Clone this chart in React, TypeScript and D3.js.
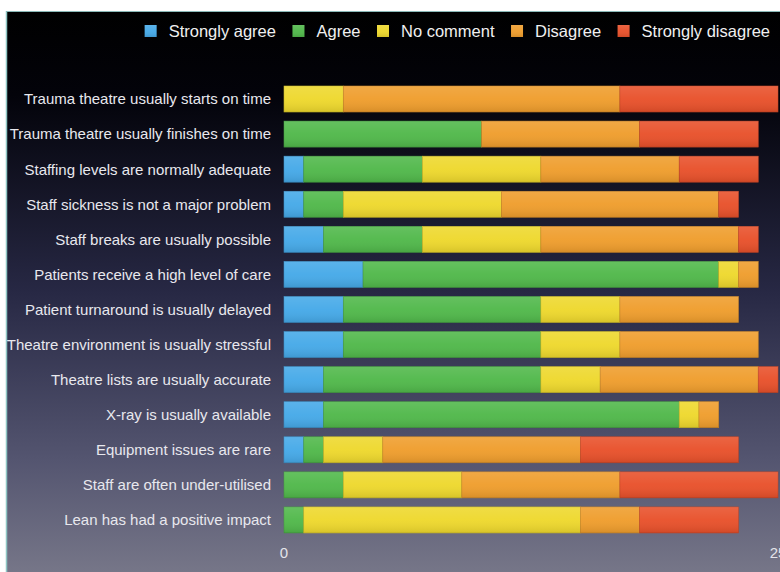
import React, { useEffect, useRef } from "react";
import * as d3 from "d3";

const categories = [
  "Trauma theatre usually starts on time",
  "Trauma theatre usually finishes on time",
  "Staffing levels are normally adequate",
  "Staff sickness is not a major problem",
  "Staff breaks are usually possible",
  "Patients receive a high level of care",
  "Patient turnaround is usually delayed",
  "Theatre environment is usually stressful",
  "Theatre lists are usually accurate",
  "X-ray is usually available",
  "Equipment issues are rare",
  "Staff are often under-utilised ",
  "Lean has had a positive impact",
];

const seriesNames = ["Strongly agree", "Agree", "No comment", "Disagree", "Strongly disagree"];
const seriesColors = ["#45a9e8", "#50b84a", "#eed82c", "#ef9d2c", "#e8502a"];

const stronglyAgree = [0, 0, 1, 1, 2, 4, 3, 3, 2, 2, 1, 0, 0];
const agree = [0, 10, 6, 2, 5, 18, 10, 10, 11, 18, 1, 3, 1];
const noComment = [3, 0, 6, 8, 6, 1, 4, 4, 3, 1, 3, 6, 14];
const disagree = [14, 8, 7, 11, 10, 1, 6, 7, 8, 1, 10, 8, 3];
const stronglyDisagree = [8, 6, 4, 1, 1, 0, 0, 0, 1, 0, 8, 8, 5];

const xTicks = [0, 25];

const W = 780;
const H = 572;

export default function App() {
  const ref = useRef<SVGSVGElement | null>(null);

  useEffect(() => {
    const svg = d3.select(ref.current);
    svg.selectAll("*").remove();

    const defs = svg.append("defs");
    const bg = defs.append("linearGradient").attr("id", "bg").attr("x1", 0).attr("y1", 0).attr("x2", 0).attr("y2", 1);
    bg.append("stop").attr("offset", "0%").attr("stop-color", "#000000");
    bg.append("stop").attr("offset", "15%").attr("stop-color", "#03030a");
    bg.append("stop").attr("offset", "50%").attr("stop-color", "#272844");
    bg.append("stop").attr("offset", "80%").attr("stop-color", "#545570");
    bg.append("stop").attr("offset", "100%").attr("stop-color", "#767688");

    const shine = defs.append("linearGradient").attr("id", "shine").attr("x1", 0).attr("y1", 0).attr("x2", 0).attr("y2", 1);
    shine.append("stop").attr("offset", "0%").attr("stop-color", "#ffffff").attr("stop-opacity", 0.12);
    shine.append("stop").attr("offset", "50%").attr("stop-color", "#ffffff").attr("stop-opacity", 0.04);
    shine.append("stop").attr("offset", "100%").attr("stop-color", "#000000").attr("stop-opacity", 0.1);

    svg.append("rect").attr("width", W).attr("height", H).attr("fill", "#ffffff");
    svg.append("rect").attr("x", 6).attr("y", 11).attr("width", W - 6).attr("height", H - 11).attr("fill", "url(#bg)");
    svg.append("line").attr("x1", 6.5).attr("x2", 6.5).attr("y1", 11).attr("y2", H).attr("stroke", "#8ec6c4").attr("stroke-width", 1.5);
    svg.append("line").attr("x1", 6).attr("x2", W).attr("y1", 11.5).attr("y2", 11.5).attr("stroke", "#8ab8b8").attr("stroke-width", 1);

    const x = d3.scaleLinear().domain([0, 25]).range([284, 778]);
    const y = d3.scaleBand<string>().domain(categories).range([81.46, 537.5]).paddingInner(0.259).paddingOuter(0.1295);

    const rows = categories.map((c, i) => ({
      cat: c,
      "Strongly agree": stronglyAgree[i],
      Agree: agree[i],
      "No comment": noComment[i],
      Disagree: disagree[i],
      "Strongly disagree": stronglyDisagree[i],
    }));
    const stack = d3.stack<any>().keys(seriesNames)(rows);

    const g = svg.append("g");
    stack.forEach((s, si) => {
      s.forEach((d: any) => {
        const w = x(d[1]) - x(d[0]);
        if (w <= 0) return;
        const cat = d.data.cat;
        g.append("rect")
          .attr("x", x(d[0]))
          .attr("y", y(cat)!)
          .attr("width", w)
          .attr("height", y.bandwidth())
          .attr("fill", seriesColors[si])
          .attr("stroke", d3.color(seriesColors[si])!.darker(0.5).toString())
          .attr("stroke-width", 0.6);
        g.append("rect")
          .attr("x", x(d[0]))
          .attr("y", y(cat)!)
          .attr("width", w)
          .attr("height", y.bandwidth())
          .attr("fill", "url(#shine)");
      });
    });

    svg
      .append("g")
      .selectAll("text")
      .data(categories)
      .join("text")
      .attr("x", 271)
      .attr("y", (d) => y(d)! + y.bandwidth() / 2)
      .attr("dy", "0.36em")
      .attr("text-anchor", "end")
      .attr("font-family", "'Liberation Sans', Arial, sans-serif")
      .attr("font-size", 15)
      .attr("fill", "#e8e8ee")
      .text((d) => d);

    svg
      .append("g")
      .selectAll("text")
      .data(xTicks)
      .join("text")
      .attr("x", (d) => x(d))
      .attr("y", 558)
      .attr("text-anchor", "middle")
      .attr("font-family", "'Liberation Sans', Arial, sans-serif")
      .attr("font-size", 15)
      .attr("fill", "#e4e4ea")
      .text((d) => String(d));

    // legend, right-aligned
    const lg = svg.append("g");
    const fs = 16.5;
    const items = seriesNames.map((n, i) => {
      const t = lg
        .append("text")
        .attr("y", 37)
        .attr("font-family", "'Liberation Sans', Arial, sans-serif")
        .attr("font-size", fs)
        .attr("fill", "#f0f0f0")
        .text(n);
      const w = (t.node() as SVGTextElement).getComputedTextLength();
      return { t, w, i };
    });
    let cursor = 770;
    for (let k = items.length - 1; k >= 0; k--) {
      const it = items[k];
      const tx = cursor - it.w;
      it.t.attr("x", tx);
      lg.append("rect")
        .attr("x", tx - 24)
        .attr("y", 25)
        .attr("width", 12)
        .attr("height", 12)
        .attr("fill", seriesColors[it.i]);
      lg.append("rect")
        .attr("x", tx - 24)
        .attr("y", 25)
        .attr("width", 12)
        .attr("height", 12)
        .attr("fill", "url(#shine)");
      cursor = tx - 24 - 16.5;
    }
  }, []);

  return (
    <div style={{ position: "absolute", left: 0, top: 0 }}>
      <svg ref={ref} width={W} height={H} style={{ display: "block" }} />
    </div>
  );
}
